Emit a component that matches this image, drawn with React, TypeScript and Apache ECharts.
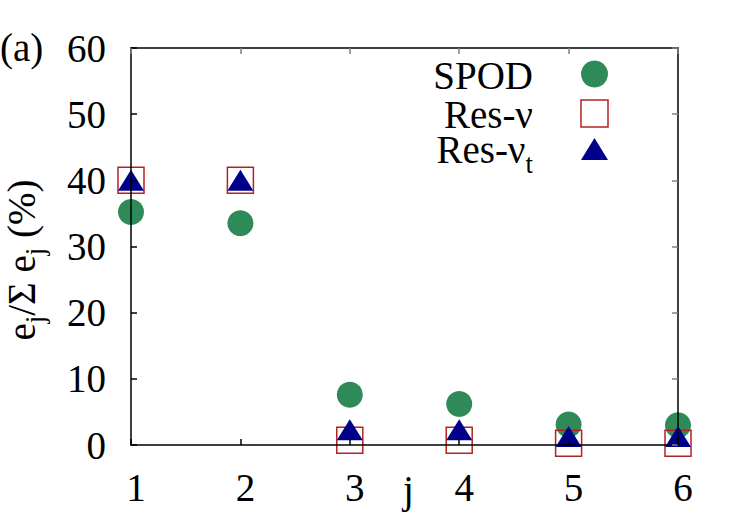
import React, { useEffect, useRef } from "react";
import * as echarts from "echarts";

// mode index j
const modeIndex = [1, 2, 3, 4, 5, 6];
// energy fraction e_j / Σ e_j in percent
const spodShare = [35.2, 33.5, 7.6, 6.2, 3.1, 3.0];
const resNuShare = [40, 40, 0.7, 0.7, 0.25, 0.25];
const resNuTShare = [40, 40, 2.3, 2.3, 1.3, 1.3];
const yTicks = [0, 10, 20, 30, 40, 50, 60];

const FONT = "Liberation Serif";
const FS = 39;

const GREEN = "#2E8B57";
const RED = "#B22222";
const NAVY = "#00008B";

const pairs = (ys: number[]) => modeIndex.map((x, i) => [x, ys[i]]);

const mainText = { fontFamily: FONT, fontSize: FS, color: "#000" };
const subText = (shift: number, lh: number) => ({
  fontFamily: FONT,
  fontSize: 27,
  lineHeight: lh,
  color: "#000",
  padding: [shift, 0, 0, 0],
});

// key rows: label (rich text), row centre
const keyRows = [
  { label: "{m|SPOD}", y: 75 },
  { label: "{m|Res-ν}", y: 114 },
  { label: "{m|Res-ν}{s|t}", y: 149 },
];

export default function App() {
  const ref = useRef<HTMLDivElement>(null);

  useEffect(() => {
    if (!ref.current) return;
    const chart = echarts.init(ref.current, undefined, { renderer: "svg" });

    const mirrorTick = { show: true, inside: true, length: 6, lineStyle: { color: "#808080", width: 1.5 } };
    const mainTick = { show: true, inside: true, length: 6, lineStyle: { color: "#000", width: 1.5 } };
    const line = { show: true, onZero: false, lineStyle: { color: "#000", width: 1.5 } };
    const tickText = (v: number) => `{t|${v}}`;
    const keyRich = {
      m: { ...mainText, fill: "#000", lineHeight: 32 },
      s: { ...subText(30, 32), fill: "#000" },
    };

    // key: right-aligned labels with their marker to the right
    const keyX = 533;
    const iconX = 594.5;
    const key: any[] = keyRows.map((r) => ({
      type: "text",
      x: keyX,
      y: r.y,
      style: { text: r.label, align: "right", verticalAlign: "middle", rich: keyRich },
    }));
    key.push(
      { type: "circle", shape: { cx: iconX, cy: 74, r: 13.5 }, style: { fill: GREEN } },
      {
        type: "rect",
        shape: { x: iconX - 13.5, y: 100, width: 27, height: 27 },
        style: { fill: "none", stroke: RED, lineWidth: 1.5 },
      },
      {
        type: "polygon",
        shape: { points: [[iconX, 138], [iconX + 13.5, 160], [iconX - 13.5, 160]] },
        style: { fill: NAVY },
      }
    );

    chart.setOption({
      animation: false,
      backgroundColor: "#fff",
      textStyle: { fontFamily: FONT, fontSize: FS, color: "#000" },
      grid: { left: 131, right: 72, top: 48, bottom: 80, outerBoundsMode: "none", containLabel: false },
      xAxis: [
        {
          type: "value",
          min: 1,
          max: 6,
          interval: 1,
          z: 5,
          axisLine: line,
          axisTick: mainTick,
          splitLine: { show: false },
          axisLabel: {
            margin: 22,
            formatter: tickText,
            rich: { t: { ...mainText, lineHeight: 40, padding: [0, 0, 0, 10] } },
          },
          name: "{t|j}",
          nameLocation: "middle",
          nameGap: 24,
          nameMoveOverlap: false,
          nameTextStyle: { rich: { t: { ...mainText, lineHeight: 40, padding: [0, 0, 0, 8] } } },
        },
        {
          type: "value",
          position: "top",
          min: 1,
          max: 6,
          interval: 1,
          z: 5,
          axisLine: line,
          axisTick: mirrorTick,
          splitLine: { show: false },
          axisLabel: { show: false },
        },
      ],
      yAxis: [
        {
          type: "value",
          min: yTicks[0],
          max: yTicks[yTicks.length - 1],
          interval: 10,
          z: 5,
          axisLine: line,
          axisTick: mainTick,
          splitLine: { show: false },
          axisLabel: {
            margin: 25,
            formatter: tickText,
            rich: { t: { ...mainText, lineHeight: 40 } },
          },
        },
        {
          type: "value",
          position: "right",
          min: 0,
          max: 60,
          interval: 10,
          z: 5,
          axisLine: line,
          axisTick: mirrorTick,
          splitLine: { show: false },
          axisLabel: { show: false },
        },
      ],
      graphic: [
        {
          type: "text",
          x: 0,
          y: 47,
          style: { text: "{m|(a)}", verticalAlign: "middle", rich: keyRich },
        },
        {
          // y-axis title, read bottom to top
          type: "text",
          x: 21,
          y: 260,
          rotation: Math.PI / 2,
          style: {
            text: "{m|e}{s|j}{m|/Σ e}{s|j}{m| (%)}",
            align: "center",
            verticalAlign: "middle",
            rich: {
              m: { ...mainText, fill: "#000", lineHeight: 40 },
              s: { ...subText(28, 40), fill: "#000" },
            },
          },
        },
        ...key,
      ],
      series: [
        {
          name: "SPOD",
          type: "scatter",
          symbol: "circle",
          symbolSize: 26,
          itemStyle: { color: GREEN, opacity: 1 },
          data: pairs(spodShare),
        },
        {
          name: "Res-ν",
          type: "scatter",
          symbol: "rect",
          symbolSize: 26,
          itemStyle: { color: "rgba(0,0,0,0)", borderColor: RED, borderWidth: 1.5, opacity: 1 },
          data: pairs(resNuShare),
        },
        {
          name: "Res-νt",
          type: "scatter",
          symbol: "triangle",
          symbolSize: [26, 21],
          itemStyle: { color: NAVY, opacity: 1 },
          data: pairs(resNuTShare),
        },
      ],
    });

    return () => chart.dispose();
  }, []);

  return <div ref={ref} style={{ width: 750, height: 525, position: "absolute", left: 0, top: 0 }} />;
}
